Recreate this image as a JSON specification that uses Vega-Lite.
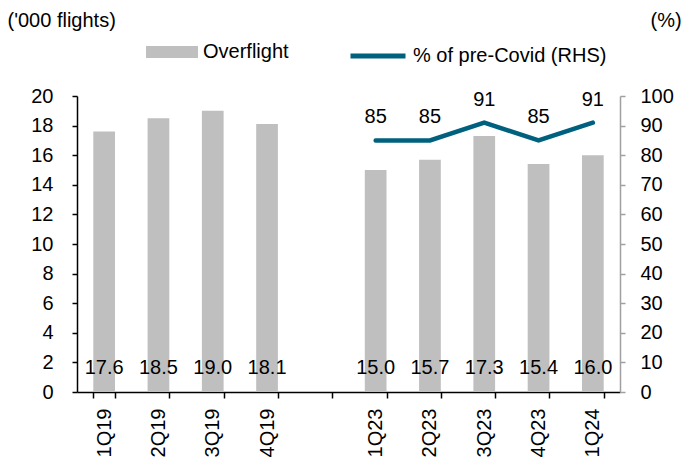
{
  "$schema": "https://vega.github.io/schema/vega-lite/v6.json",
  "width": 543,
  "height": 296,
  "autosize": {"type": "none"},
  "padding": {"left": 77, "top": 96, "right": 65, "bottom": 67},
  "config": {
    "font": "Liberation Sans",
    "view": {"stroke": null},
    "axis": {"labelFontSize": 20, "titleFontSize": 20, "labelColor": "#000000", "titleColor": "#000000", "titleFontWeight": "normal", "grid": false, "labelFont": "Liberation Sans", "titleFont": "Liberation Sans"},
    "legend": {"labelFontSize": 20, "labelColor": "#000000", "labelFont": "Liberation Sans", "padding": 0, "labelLimit": 0}
  },
  "data": {
    "values": [
      {"q": "1Q19", "flights": 17.6, "pct": null},
      {"q": "2Q19", "flights": 18.5, "pct": null},
      {"q": "3Q19", "flights": 19.0, "pct": null},
      {"q": "4Q19", "flights": 18.1, "pct": null},
      {"q": "1Q23", "flights": 15.0, "pct": 85},
      {"q": "2Q23", "flights": 15.7, "pct": 85},
      {"q": "3Q23", "flights": 17.3, "pct": 91},
      {"q": "4Q23", "flights": 15.4, "pct": 85},
      {"q": "1Q24", "flights": 16.0, "pct": 91}
    ]
  },
  "encoding": {
    "x": {
      "field": "q",
      "type": "nominal",
      "sort": null,
      "scale": {"domain": ["1Q19", "2Q19", "3Q19", "4Q19", " ", "1Q23", "2Q23", "3Q23", "4Q23", "1Q24"], "paddingInner": 0.6, "paddingOuter": 0.3},
      "axis": {"title": null, "labelAngle": -90, "labelPadding": 10, "tickBand": "extent", "tickSize": 6, "tickColor": "#000000", "domainColor": "#000000", "tickWidth": 1.5, "domainWidth": 1.5}
    }
  },
  "layer": [
    {
      "layer": [
        {
          "mark": {"type": "bar"},
          "encoding": {
            "y": {"field": "flights", "type": "quantitative", "scale": {"domain": [0, 20]},
              "axis": {"title": "('000 flights)", "titleAngle": 0, "titleAlign": "left", "titleBaseline": "alphabetic", "titleX": -70, "titleY": -70, "values": [0, 2, 4, 6, 8, 10, 12, 14, 16, 18, 20], "tickSize": 5, "labelPadding": 19, "tickColor": "#000000", "domainColor": "#000000", "tickWidth": 1.5, "domainWidth": 1.5}},
            "fill": {"datum": "Overflight", "type": "nominal", "scale": {"range": ["#BFBFBF"]},
              "legend": {"orient": "none", "legendX": 69, "legendY": -70, "title": null, "symbolType": "M-1,-0.23H1V0.23H-1Z", "symbolSize": 2704, "symbolStrokeWidth": 0, "labelOffset": 5}}
          }
        },
        {
          "mark": {"type": "text", "fontSize": 20, "color": "#000000", "baseline": "middle", "font": "Liberation Sans"},
          "encoding": {
            "y": {"datum": 1.6, "type": "quantitative",
              "axis": {"title": "('000 flights)", "titleAngle": 0, "titleAlign": "left", "titleBaseline": "alphabetic", "titleX": -70, "titleY": -70, "values": [0, 2, 4, 6, 8, 10, 12, 14, 16, 18, 20], "tickSize": 5, "labelPadding": 19, "tickColor": "#000000", "domainColor": "#000000", "tickWidth": 1.5, "domainWidth": 1.5}},
            "text": {"field": "flights", "type": "quantitative", "format": ".1f"}
          }
        }
      ]
    },
    {
      "transform": [{"filter": "datum.pct != null"}],
      "layer": [
        {
          "mark": {"type": "line", "strokeWidth": 4.5, "strokeCap": "round", "strokeJoin": "miter"},
          "encoding": {
            "y": {"field": "pct", "type": "quantitative", "scale": {"domain": [0, 100]},
              "axis": {"orient": "right", "title": "(%)", "titleAngle": 0, "titleAlign": "left", "titleBaseline": "alphabetic", "titleX": 30, "titleY": -70, "values": [0, 10, 20, 30, 40, 50, 60, 70, 80, 90, 100], "tickSize": 5, "labelPadding": 15, "tickColor": "#A0A0A0", "domainColor": "#A0A0A0", "tickWidth": 1.5, "domainWidth": 1.5}},
            "stroke": {"datum": "% of pre-Covid (RHS)", "type": "nominal", "scale": {"range": ["#00617E"]},
              "legend": {"orient": "none", "legendX": 271, "legendY": -70, "title": null, "symbolType": "stroke", "symbolSize": 3025, "symbolStrokeWidth": 5, "labelOffset": 5}}
          }
        },
        {
          "mark": {"type": "text", "fontSize": 20, "color": "#000000", "baseline": "middle", "dy": -23, "font": "Liberation Sans"},
          "encoding": {
            "y": {"field": "pct", "type": "quantitative",
              "axis": {"orient": "right", "title": "(%)", "titleAngle": 0, "titleAlign": "left", "titleBaseline": "alphabetic", "titleX": 30, "titleY": -70, "values": [0, 10, 20, 30, 40, 50, 60, 70, 80, 90, 100], "tickSize": 5, "labelPadding": 15, "tickColor": "#A0A0A0", "domainColor": "#A0A0A0", "tickWidth": 1.5, "domainWidth": 1.5}},
            "text": {"field": "pct", "type": "quantitative"}
          }
        }
      ]
    }
  ],
  "resolve": {"scale": {"y": "independent", "fill": "independent", "stroke": "independent"}}
}
